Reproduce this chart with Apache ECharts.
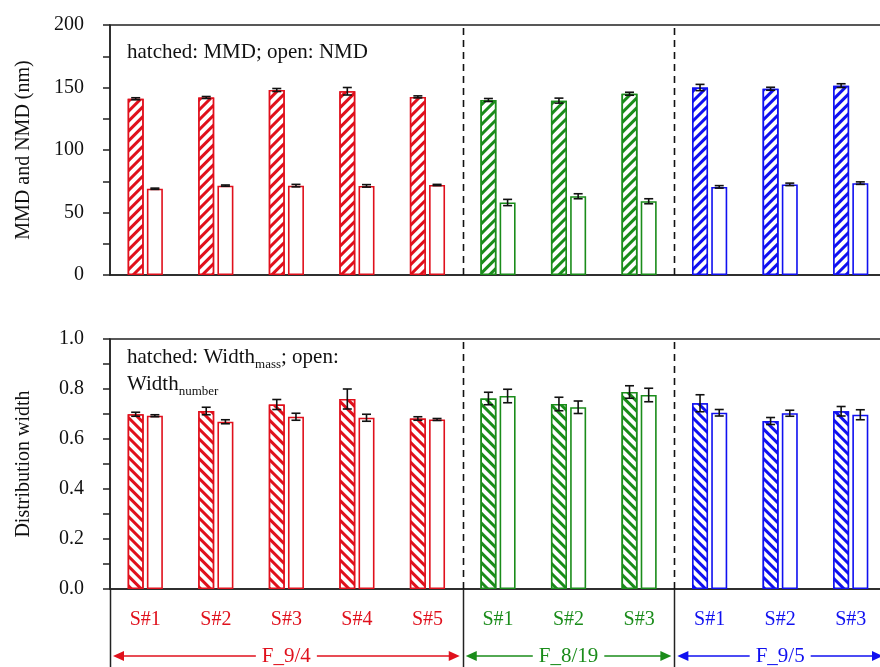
<!DOCTYPE html>
<html>
<head>
<meta charset="utf-8">
<script src="https://cdn.jsdelivr.net/npm/echarts@6/dist/echarts.min.js"></script>
<style>
  html, body { margin: 0; padding: 0; background: #fff; }
  #chart { width: 880px; height: 667px; }
</style>
</head>
<body>
<div id="chart"></div>
<script>
const categories = ['S#1', 'S#2', 'S#3', 'S#4', 'S#5', 'S#1', 'S#2', 'S#3', 'S#1', 'S#2', 'S#3'];
const groupNames = ['F_9/4', 'F_8/19', 'F_9/5'];
const groupSizes = [5, 3, 3];
const groupColors = ['#e0101c', '#1a8c1a', '#1010f0'];

// top panel (nm)
const mmd = [141, 142, 148, 147, 142.5, 140, 139.5, 145, 150, 149, 151.5];
const mmdErr = [0.8, 0.8, 1.2, 3, 0.8, 1.2, 2, 1.2, 2.5, 1.2, 1.5];
const nmd = [69, 71.5, 71.5, 71.3, 72, 58, 63, 59, 70.5, 72.5, 73.5];
const nmdErr = [0.5, 0.5, 1, 1, 0.5, 2.5, 2, 2, 1, 1, 1];

// bottom panel
const wMass = [0.699, 0.712, 0.738, 0.760, 0.682, 0.762, 0.740, 0.788, 0.743, 0.672, 0.711];
const wMassErr = [0.008, 0.015, 0.02, 0.04, 0.007, 0.025, 0.027, 0.025, 0.034, 0.014, 0.019];
const wNum = [0.693, 0.669, 0.689, 0.685, 0.678, 0.772, 0.727, 0.776, 0.705, 0.703, 0.697];
const wNumErr = [0.004, 0.008, 0.014, 0.014, 0.004, 0.027, 0.025, 0.027, 0.013, 0.012, 0.02];

const FONT = 'Liberation Serif';
const AXIS = '#222';
const BAR_W = 16;
const GAP = 3.2;
const OFFSET = (BAR_W + GAP) / 2;

const groupOf = (i) => {
  let acc = 0;
  for (let g = 0; g < groupSizes.length; g++) {
    acc += groupSizes[g];
    if (i < acc) return g;
  }
  return groupSizes.length - 1;
};

const chart = echarts.init(document.getElementById('chart'));

const barData = (vals, hatched, rot) => vals.map((v, i) => {
  const c = groupColors[groupOf(i)];
  const style = { color: '#fff', borderColor: c, borderWidth: 1.6 };
  if (hatched) {
    style.decal = {
      symbol: 'rect', symbolSize: 1,
      dashArrayX: [1, 0], dashArrayY: [3, 4],
      rotation: rot, color: c, backgroundColor: '#fff'
    };
  }
  return { value: v, itemStyle: style };
});

const errSeries = (vals, errs, axisIdx, side) => ({
  type: 'custom',
  xAxisIndex: axisIdx, yAxisIndex: axisIdx,
  z: 5,
  data: vals.map((v, i) => [i, v, errs[i]]),
  encode: { x: 0, y: 1 },
  renderItem: (params, api) => {
    const idx = api.value(0), v = api.value(1), e = api.value(2);
    const hi = api.coord([idx, v + e]);
    const lo = api.coord([idx, v - e]);
    const x = hi[0] + side * OFFSET;
    const cap = 4.5;
    const st = { stroke: '#111', lineWidth: 1.6 };
    return {
      type: 'group',
      children: [
        { type: 'line', shape: { x1: x, y1: hi[1], x2: x, y2: lo[1] }, style: st },
        { type: 'line', shape: { x1: x - cap, y1: hi[1], x2: x + cap, y2: hi[1] }, style: st },
        { type: 'line', shape: { x1: x - cap, y1: lo[1], x2: x + cap, y2: lo[1] }, style: st }
      ]
    };
  }
});

const xAxisBase = (gridIndex, showLabels) => ({
  type: 'category',
  gridIndex,
  data: categories,
  axisLine: { lineStyle: { color: AXIS, width: 1.5 } },
  axisTick: { length: 6, lineStyle: { color: AXIS, width: 1.5 } },
  axisLabel: showLabels ? {
    interval: 0,
    margin: 21,
    fontFamily: FONT,
    fontSize: 20,
    formatter: (v, i) => `{g${groupOf(i)}|${v}}`,
    rich: {
      g0: { color: groupColors[0], fontFamily: FONT, fontSize: 20 },
      g1: { color: groupColors[1], fontFamily: FONT, fontSize: 20 },
      g2: { color: groupColors[2], fontFamily: FONT, fontSize: 20 }
    }
  } : { show: false }
});

const yAxisBase = (gridIndex, max, interval, name, fmt) => ({
  type: 'value',
  gridIndex, min: 0, max, interval,
  name, nameLocation: 'middle', nameGap: 76,
  nameTextStyle: { fontFamily: FONT, fontSize: 20, color: '#111' },
  axisLine: { show: true, lineStyle: { color: AXIS, width: 1.5 } },
  axisTick: { show: true, length: 7, lineStyle: { color: AXIS, width: 1.5 } },
  axisLabel: { fontFamily: FONT, fontSize: 20, color: '#111', margin: 26, formatter: fmt },
  splitLine: { show: false }
});

const option = {
  animation: false,
  backgroundColor: '#fff',
  textStyle: { fontFamily: FONT },
  grid: [
    { left: 110, top: 25, width: 776, height: 250, show: true, borderColor: AXIS, borderWidth: 1.5, outerBoundsMode: 'none' },
    { left: 110, top: 339, width: 776, height: 250, show: true, borderColor: AXIS, borderWidth: 1.5, outerBoundsMode: 'none' }
  ],
  xAxis: [xAxisBase(0, false), xAxisBase(1, true)],
  yAxis: [
    yAxisBase(0, 200, 25, 'MMD and NMD (nm)', (v) => (v % 50 === 0 ? String(v) : '')),
    yAxisBase(1, 1, 0.1, 'Distribution width', (v) => (Math.round(v * 10) % 2 === 0 ? v.toFixed(1) : ''))
  ],
  series: [
    { type: 'bar', xAxisIndex: 0, yAxisIndex: 0, barWidth: BAR_W, barGap: (GAP / BAR_W * 100) + '%', data: barData(mmd, true, -Math.PI / 4) },
    { type: 'bar', xAxisIndex: 0, yAxisIndex: 0, barWidth: BAR_W, data: barData(nmd, false) },
    { type: 'bar', xAxisIndex: 1, yAxisIndex: 1, barWidth: BAR_W, barGap: (GAP / BAR_W * 100) + '%', data: barData(wMass, true, Math.PI / 4) },
    { type: 'bar', xAxisIndex: 1, yAxisIndex: 1, barWidth: BAR_W, data: barData(wNum, false) },
    errSeries(mmd, mmdErr, 0, -1),
    errSeries(nmd, nmdErr, 0, 1),
    errSeries(wMass, wMassErr, 1, -1),
    errSeries(wNum, wNumErr, 1, 1)
  ]
};

chart.setOption(option);

// separators, dashed lines and group arrows, placed from the axis scales
const px = (i) => chart.convertToPixel({ xAxisIndex: 0 }, i);
const half = (px(1) - px(0)) / 2;
const bounds = [px(0) - half];
let acc = 0;
groupSizes.forEach((n) => { acc += n; bounds.push(px(acc - 1) + half); });

const yTop0 = chart.convertToPixel({ yAxisIndex: 0 }, 200);
const yBot0 = chart.convertToPixel({ yAxisIndex: 0 }, 0);
const yTop1 = chart.convertToPixel({ yAxisIndex: 1 }, 1);
const yBot1 = chart.convertToPixel({ yAxisIndex: 1 }, 0);
const H = chart.getHeight();
const arrowY = 656;

const graphics = [];
const dashStyle = { stroke: '#111', lineWidth: 1.6, lineDash: [7, 5] };
for (let k = 1; k < bounds.length - 1; k++) {
  const x = Math.round(bounds[k]) + 0.5;
  graphics.push({ type: 'line', shape: { x1: x, y1: yTop0 + 3, x2: x, y2: yBot0 }, style: dashStyle, z: 10 });
  graphics.push({ type: 'line', shape: { x1: x, y1: yTop1 + 3, x2: x, y2: yBot1 }, style: dashStyle, z: 10 });
}
for (let k = 0; k < bounds.length - 1; k++) {
  const x = Math.round(bounds[k]) + 0.5;
  graphics.push({ type: 'line', shape: { x1: x, y1: yBot1, x2: x, y2: H }, style: { stroke: AXIS, lineWidth: 1.5 }, z: 10 });
}
groupNames.forEach((name, g) => {
  const c = groupColors[g];
  const x1 = bounds[g] + 3, x2 = bounds[g + 1] - 3;
  const mid = (bounds[g] + bounds[g + 1]) / 2;
  graphics.push({ type: 'line', shape: { x1: x1 + 8, y1: arrowY, x2: x2 - 8, y2: arrowY }, style: { stroke: c, lineWidth: 1.6 }, z: 10 });
  graphics.push({ type: 'polygon', shape: { points: [[x1, arrowY], [x1 + 11, arrowY - 5], [x1 + 11, arrowY + 5]] }, style: { fill: c }, z: 10 });
  graphics.push({ type: 'polygon', shape: { points: [[x2, arrowY], [x2 - 11, arrowY - 5], [x2 - 11, arrowY + 5]] }, style: { fill: c }, z: 10 });
  graphics.push({
    type: 'text', x: mid, y: arrowY, z: 11,
    style: { text: name, fill: c, font: '21px ' + FONT, align: 'center', verticalAlign: 'middle', backgroundColor: '#fff', padding: [0, 6] }
  });
});

graphics.push({
  type: 'text', left: 127, top: 42, z: 12,
  style: { text: 'hatched: MMD; open: NMD', fill: '#111', font: '21px ' + FONT }
});
graphics.push({
  type: 'text', left: 127, top: 347, z: 12,
  style: {
    text: '{a|hatched: Width}{s|mass}{a|; open:}\n{a|Width}{s|number}',
    rich: {
      a: { fill: '#111', fontFamily: FONT, fontSize: 21, lineHeight: 27 },
      s: { fill: '#111', fontFamily: FONT, fontSize: 13, lineHeight: 13, verticalAlign: 'bottom', padding: [0, 0, 0, 0] }
    }
  }
});

chart.setOption({ graphic: graphics });
</script>
</body>
</html>
